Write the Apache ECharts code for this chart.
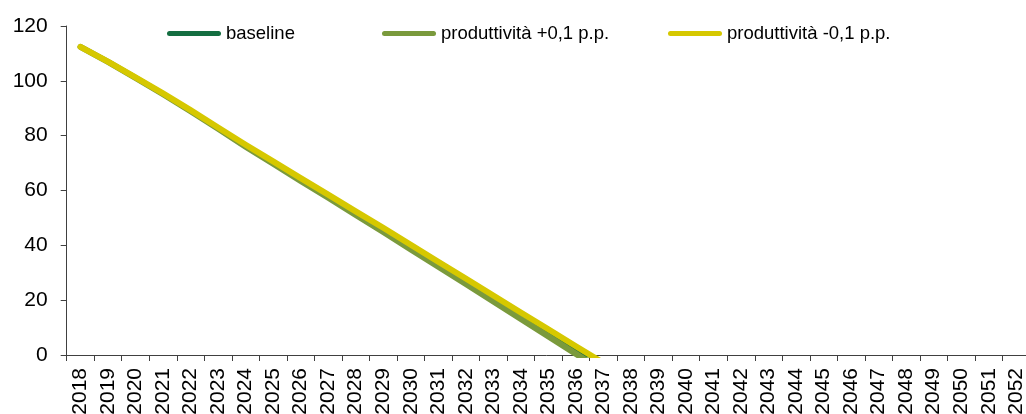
<!DOCTYPE html>
<html>
<head>
<meta charset="utf-8">
<script src="https://cdn.jsdelivr.net/npm/echarts@6/dist/echarts.min.js"></script>
<style>html,body{margin:0;padding:0;background:#fff;}#c{width:1026px;height:414px;}</style>
</head>
<body>
<div id="c"></div>
<script>
var years = [];
for (var y = 2018; y <= 2052; y++) years.push(String(y));

var baseline = [112.4,107.0,101.2,95.3,89.1,82.7,76.4,70.2,64.0,57.9,51.8,45.7,39.4,33.1,26.9,20.6,14.3,8.1,1.8,-4.4];
var prodPlus = [112.4,106.9,101.1,95.1,88.9,82.5,76.0,69.8,63.5,57.4,51.1,44.9,38.5,32.2,25.9,19.5,13.1,6.8,0.4,-5.9];
var prodMinus = [112.4,107.0,101.3,95.4,89.3,83.0,76.7,70.6,64.5,58.5,52.4,46.4,40.2,34.0,27.9,21.7,15.5,9.4,3.2,-2.9];

var names = ['baseline', 'produttività +0,1 p.p.', 'produttività -0,1 p.p.'];
var colors = ['#146E41', '#7A9A3C', '#D6C800'];
var yTicks = { min: 0, max: 120, interval: 20 };

var FONT = '"Liberation Sans", Arial, sans-serif';
var capsule = 'path://M2.5,0H51.5A2.5,2.5,0,0,1,51.5,5H2.5A2.5,2.5,0,0,1,2.5,0Z';

function legendAt(name, left) {
  return {
    data: [name], left: left, top: 23, padding: 0,
    itemWidth: 54, itemHeight: 5, icon: capsule,
    textStyle: { fontFamily: FONT, fontSize: 18.5, color: '#000', lineHeight: 21 }
  };
}

var chart = echarts.init(document.getElementById('c'), null, { renderer: 'canvas' });
chart.setOption({
  animation: false,
  backgroundColor: '#fff',
  color: colors,
  legend: [legendAt(names[0], 167), legendAt(names[1], 382), legendAt(names[2], 668)],
  grid: { left: 66.7, right: -4, top: 26, bottom: 59, containLabel: false, outerBoundsMode: 'none' },
  xAxis: {
    type: 'category', data: years, boundaryGap: true,
    axisLine: { lineStyle: { color: '#404040', width: 1 } },
    axisTick: { show: true, length: 6, interval: 0, lineStyle: { color: '#404040' } },
    axisLabel: { interval: 0, rotate: 90, margin: 13, fontFamily: FONT, fontSize: 21, color: '#000' },
    splitLine: { show: false }
  },
  yAxis: {
    type: 'value', min: yTicks.min, max: yTicks.max, interval: yTicks.interval,
    axisLine: { show: true, lineStyle: { color: '#404040', width: 1 } },
    axisTick: { show: true, length: 6, lineStyle: { color: '#404040' } },
    axisLabel: { margin: 19, fontFamily: FONT, fontSize: 21, color: '#000' },
    splitLine: { show: false }
  },
  series: [
    { name: names[0], type: 'line', data: baseline, showSymbol: false, clip: true,
      lineStyle: { width: 5, color: colors[0], cap: 'round', join: 'round' }, z: 2 },
    { name: names[1], type: 'line', data: prodPlus, showSymbol: false, clip: true,
      lineStyle: { width: 6, color: colors[1], cap: 'round', join: 'round' }, z: 3 },
    { name: names[2], type: 'line', data: prodMinus, showSymbol: false, clip: true,
      lineStyle: { width: 6, color: colors[2], cap: 'round', join: 'round' }, z: 4 }
  ]
});
</script>
</body>
</html>
